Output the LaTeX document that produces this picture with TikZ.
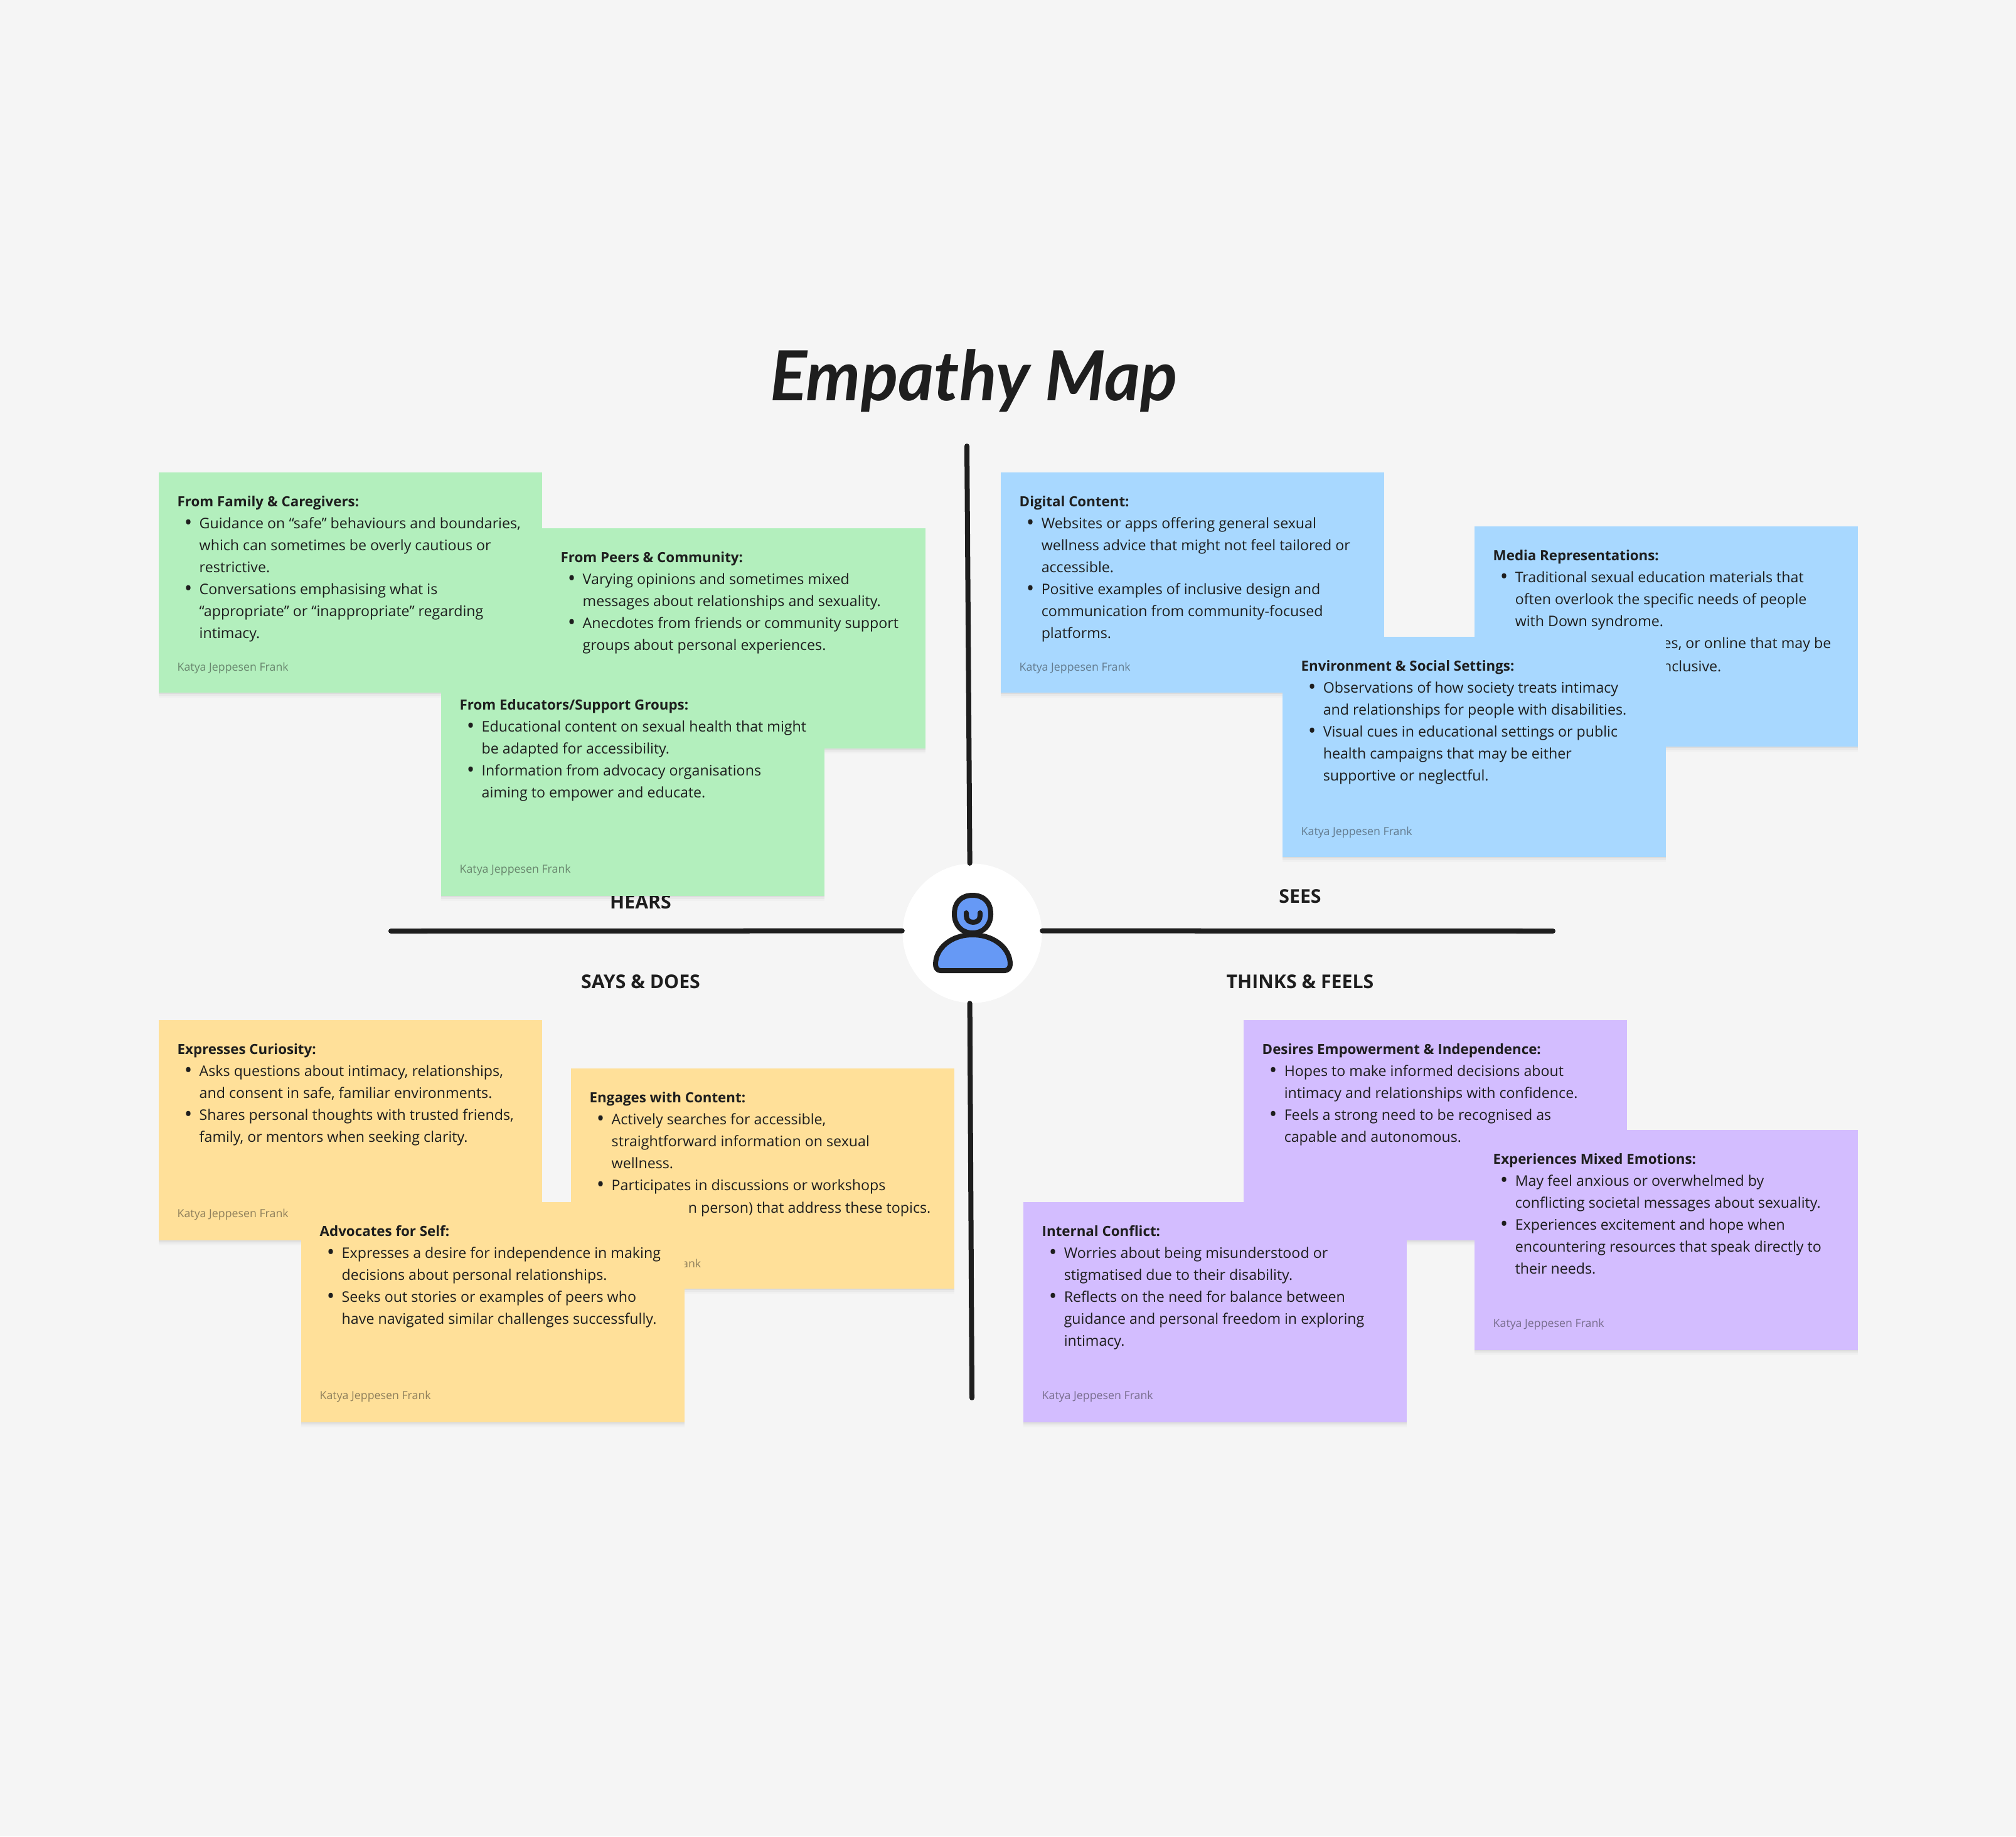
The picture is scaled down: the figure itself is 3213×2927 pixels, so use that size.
\documentclass[tikz,border=0pt]{standalone}
\usepackage{fontspec}
\setmainfont{Open Sans}
\newfontfamily\titleFont{Lato}
\usetikzlibrary{shadows}

\tikzset{
    noteCard/.style={minimum width=6.11cm, minimum height=3.51cm, inner sep=0pt, anchor=north west,
        drop shadow={shadow xshift=0pt, shadow yshift=-0.08cm, opacity=0.02, fill=black},
        drop shadow={shadow xshift=0pt, shadow yshift=-0.05cm, opacity=0.03, fill=black},
        drop shadow={shadow xshift=0pt, shadow yshift=-0.025cm, opacity=0.05, fill=black}},
    noteText/.style={inner sep=0pt, anchor=north west, align=left, text=inkColour,
        font=\fontsize{6.6}{9.93}\selectfont},
    noteFrag/.style={inner sep=0pt, anchor=east, text=inkColour, font=\fontsize{6.6}{9.93}\selectfont},
    noteSign/.style={inner sep=0pt, anchor=west, text=inkColour, text opacity=0.5, font=\fontsize{5.05}{6}\selectfont},
    quadLabel/.style={inner sep=0pt, anchor=base, text=inkColour, font=\fontsize{8.6}{10}\selectfont\bfseries},
    axisLine/.style={draw=inkColour, line width=0.08cm, line cap=round},
    iconLine/.style={draw=inkColour, line width=0.08cm, line cap=round, line join=round}
}
\newcommand{\noteHead}[1]{{\fontsize{6.35}{9.93}\selectfont\bfseries #1}}
\newcommand{\noteBul}{\makebox[0.35cm][c]{\raisebox{-0.6pt}{\fontsize{9.5}{9.93}\selectfont\textbullet}}}
\newcommand{\noteInd}{\hspace*{0.35cm}}

\begin{document}
\begin{tikzpicture}[x=0.01cm, y=-0.01cm]
    % Define colours
    \definecolor{pageColour}{HTML}{F5F5F5}
    \definecolor{inkColour}{HTML}{1E1E1E}
    \definecolor{greenNote}{HTML}{B3EFBD}
    \definecolor{blueNote}{HTML}{A8D8FF}
    \definecolor{yellowNote}{HTML}{FFE099}
    \definecolor{purpleNote}{HTML}{D3BDFF}
    \definecolor{iconColour}{HTML}{6699F5}

    % Page
    \fill[pageColour] (0,0) rectangle (3213,2927);
    \useasboundingbox (0,0) rectangle (3213,2927);

    % Title
    \node[inner sep=0pt, text=inkColour, font=\fontsize{31.3}{34}\titleFont\bfseries\itshape] (mapTitle) at (1552,607) {Empathy Map};

    % Centre circle
    \node[circle, fill=white, minimum size=2.22cm, inner sep=0pt] (hub) at (1549.5,1487.5) {};

    % Axes
    \coordinate (axisTop) at (1541,711);
    \coordinate (axisBottom) at (1549,2228);
    \coordinate (axisLeft) at (623,1484);
    \coordinate (axisRight) at (2475,1484);
    \draw[axisLine] (axisTop) -- (hub.92);
    \draw[axisLine] (axisBottom) -- (hub.268);
    \draw[axisLine] (axisLeft) -- (hub.178);
    \draw[axisLine] (axisRight) -- (hub.2);

    % Person icon
    \draw[iconLine, fill=iconColour] (1550,1427) .. controls (1568,1427) and (1579,1438) .. (1579,1457)
        .. controls (1579,1474) and (1568,1487) .. (1550,1487) .. controls (1532,1487) and (1521,1474) .. (1521,1457)
        .. controls (1521,1438) and (1532,1427) .. (1550,1427) -- cycle;
    \draw[iconLine] (1540,1455) -- (1540,1459) .. controls (1540,1466) and (1544,1470) .. (1551,1470)
        .. controls (1558,1470) and (1562,1466) .. (1562,1459) -- (1562,1455);
    \draw[iconLine, fill=iconColour] (1550,1490) .. controls (1585,1490) and (1610,1512) .. (1610,1537)
        .. controls (1610,1543) and (1606,1547) .. (1601,1547) -- (1499,1547) .. controls (1494,1547) and (1491,1543) .. (1491,1537)
        .. controls (1491,1512) and (1515,1490) .. (1550,1490) -- cycle;

    % Quadrant labels
    \node[quadLabel] (hearsLabel) at (1021,1448) {HEARS};
    \node[quadLabel] (seesLabel) at (2072,1439) {SEES};
    \node[quadLabel] (saysLabel) at (1021,1575) {SAYS \& DOES};
    \node[quadLabel] (thinksLabel) at (2072,1575) {THINKS \& FEELS};

    % Hears notes
    \node[noteCard, fill=greenNote] (family) at (252,752) {};
    \node[noteText] (familyText) at ([shift={(30,38)}]family.north west) {\noteHead{From Family \& Caregivers:}\\
        \noteBul Guidance on “safe” behaviours and boundaries,\\
        \noteInd which can sometimes be overly cautious or\\
        \noteInd restrictive.\\
        \noteBul Conversations emphasising what is\\
        \noteInd “appropriate” or “inappropriate” regarding\\
        \noteInd intimacy.};
    \node[noteSign] (familySign) at ([shift={(30,313)}]family.north west) {Katya Jeppesen Frank};

    \node[noteCard, fill=greenNote] (peers) at (863,841) {};
    \node[noteText] (peersText) at ([shift={(30,38)}]peers.north west) {\noteHead{From Peers \& Community:}\\
        \noteBul Varying opinions and sometimes mixed\\
        \noteInd messages about relationships and sexuality.\\
        \noteBul Anecdotes from friends or community support\\
        \noteInd groups about personal experiences.};

    \node[noteCard, fill=greenNote] (educators) at (702,1076) {};
    \node[noteText] (educatorsText) at ([shift={(30,38)}]educators.north west) {\noteHead{From Educators/Support Groups:}\\
        \noteBul Educational content on sexual health that might\\
        \noteInd be adapted for accessibility.\\
        \noteBul Information from advocacy organisations\\
        \noteInd aiming to empower and educate.};
    \node[noteSign] (educatorsSign) at ([shift={(30,311)}]educators.north west) {Katya Jeppesen Frank};

    % Sees notes
    \node[noteCard, fill=blueNote] (digital) at (1594,752) {};
    \node[noteText] (digitalText) at ([shift={(30,38)}]digital.north west) {\noteHead{Digital Content:}\\
        \noteBul Websites or apps offering general sexual\\
        \noteInd wellness advice that might not feel tailored or\\
        \noteInd accessible.\\
        \noteBul Positive examples of inclusive design and\\
        \noteInd communication from community-focused\\
        \noteInd platforms.};
    \node[noteSign] (digitalSign) at ([shift={(30,313)}]digital.north west) {Katya Jeppesen Frank};

    \node[noteCard, fill=blueNote] (media) at (2349,838) {};
    \node[noteText] (mediaText) at ([shift={(30,38)}]media.north west) {\noteHead{Media Representations:}\\
        \noteBul Traditional sexual education materials that\\
        \noteInd often overlook the specific needs of people\\
        \noteInd with Down syndrome.};
    \node[noteFrag] (mediaLineA) at (2919,1027) {es, or online that may be};
    \node[noteFrag] (mediaLineB) at (2744,1062) {nclusive.};

    \node[noteCard, fill=blueNote] (environment) at (2043,1014) {};
    \node[noteText] (environmentText) at ([shift={(30,38)}]environment.north west) {\noteHead{Environment \& Social Settings:}\\
        \noteBul Observations of how society treats intimacy\\
        \noteInd and relationships for people with disabilities.\\
        \noteBul Visual cues in educational settings or public\\
        \noteInd health campaigns that may be either\\
        \noteInd supportive or neglectful.};
    \node[noteSign] (environmentSign) at ([shift={(30,313)}]environment.north west) {Katya Jeppesen Frank};

    % Says and does notes
    \node[noteCard, fill=yellowNote] (curiosity) at (252,1625) {};
    \node[noteText] (curiosityText) at ([shift={(30,38)}]curiosity.north west) {\noteHead{Expresses Curiosity:}\\
        \noteBul Asks questions about intimacy, relationships,\\
        \noteInd and consent in safe, familiar environments.\\
        \noteBul Shares personal thoughts with trusted friends,\\
        \noteInd family, or mentors when seeking clarity.};
    \node[noteSign] (curiositySign) at ([shift={(30,311)}]curiosity.north west) {Katya Jeppesen Frank};

    \node[noteCard, fill=yellowNote] (content) at (909,1702) {};
    \node[noteText] (contentText) at ([shift={(30,38)}]content.north west) {\noteHead{Engages with Content:}\\
        \noteBul Actively searches for accessible,\\
        \noteInd straightforward information on sexual\\
        \noteInd wellness.\\
        \noteBul Participates in discussions or workshops};
    \node[noteFrag] (contentLine) at (1484,1927) {n person) that address these topics.};
    \node[noteSign, anchor=east] (contentSign) at (1118,2014) {ank};

    \node[noteCard, fill=yellowNote] (advocates) at (479,1915) {};
    \node[noteText] (advocatesText) at ([shift={(30,38)}]advocates.north west) {\noteHead{Advocates for Self:}\\
        \noteBul Expresses a desire for independence in making\\
        \noteInd decisions about personal relationships.\\
        \noteBul Seeks out stories or examples of peers who\\
        \noteInd have navigated similar challenges successfully.};
    \node[noteSign] (advocatesSign) at ([shift={(30,311)}]advocates.north west) {Katya Jeppesen Frank};

    % Thinks and feels notes
    \node[noteCard, fill=purpleNote] (desires) at (1981,1625) {};
    \node[noteText] (desiresText) at ([shift={(30,38)}]desires.north west) {\noteHead{Desires Empowerment \& Independence:}\\
        \noteBul Hopes to make informed decisions about\\
        \noteInd intimacy and relationships with confidence.\\
        \noteBul Feels a strong need to be recognised as\\
        \noteInd capable and autonomous.};

    \node[noteCard, fill=purpleNote] (mixed) at (2349,1800) {};
    \node[noteText] (mixedText) at ([shift={(30,38)}]mixed.north west) {\noteHead{Experiences Mixed Emotions:}\\
        \noteBul May feel anxious or overwhelmed by\\
        \noteInd conflicting societal messages about sexuality.\\
        \noteBul Experiences excitement and hope when\\
        \noteInd encountering resources that speak directly to\\
        \noteInd their needs.};
    \node[noteSign] (mixedSign) at ([shift={(30,311)}]mixed.north west) {Katya Jeppesen Frank};

    \node[noteCard, fill=purpleNote] (conflict) at (1630,1915) {};
    \node[noteText] (conflictText) at ([shift={(30,38)}]conflict.north west) {\noteHead{Internal Conflict:}\\
        \noteBul Worries about being misunderstood or\\
        \noteInd stigmatised due to their disability.\\
        \noteBul Reflects on the need for balance between\\
        \noteInd guidance and personal freedom in exploring\\
        \noteInd intimacy.};
    \node[noteSign] (conflictSign) at ([shift={(30,311)}]conflict.north west) {Katya Jeppesen Frank};

\end{tikzpicture}
\end{document}
